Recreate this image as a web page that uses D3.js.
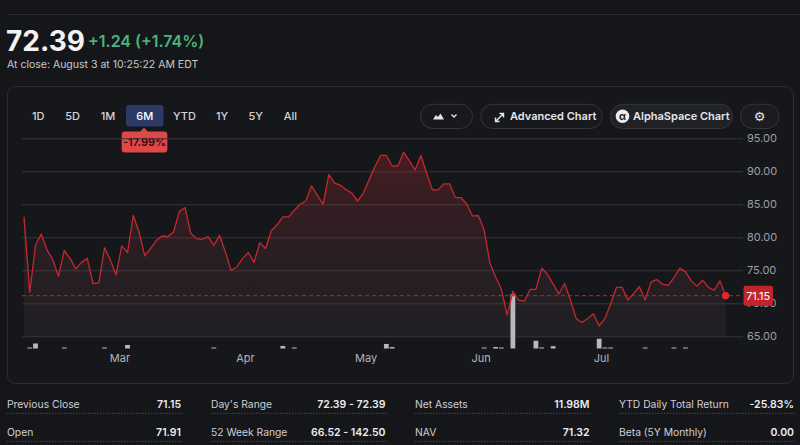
<!DOCTYPE html>
<html>
<head>
<meta charset="utf-8">
<script src="https://cdn.jsdelivr.net/npm/d3@7"></script>
<style>
    body { margin: 0; background: #15161a; }
    svg { display: block; font-family: Inter, "Noto Sans", sans-serif; }
</style>
</head>
<body>
<svg width="800" height="445"></svg>
<script>
// daily closes, 6M window
var closes = [
    83.1, 71.7, 78.8, 80.5, 78.1, 76.6, 74.1, 78.0, 76.8, 75.2,
    76.2, 76.8, 73.0, 73.1, 78.4, 76.6, 74.3, 78.7, 77.7, 83.3,
    80.8, 77.2, 78.3, 79.5, 80.2, 80.1, 80.8, 83.9, 84.5, 80.6,
    79.8, 79.7, 80.1, 78.8, 80.3, 77.8, 75.0, 75.5, 76.8, 77.7,
    76.2, 79.2, 78.3, 81.0, 81.9, 83.1, 83.1, 84.1, 85.0, 85.5,
    87.8, 86.4, 85.0, 89.5, 88.2, 87.9, 87.2, 86.7, 85.5, 86.7,
    88.7, 90.7, 92.4, 92.4, 90.8, 90.8, 92.9, 91.6, 90.2, 92.4,
    89.7, 87.2, 87.2, 88.1, 88.1, 86.0, 86.0, 85.0, 83.2, 83.3,
    81.1, 76.1, 74.0, 72.1, 68.2, 71.8, 70.5, 70.3, 72.1, 72.1,
    75.3, 74.4, 72.9, 71.4, 73.0, 70.5, 67.7, 67.1, 67.7, 68.4,
    66.6, 67.7, 69.9, 72.4, 72.4, 70.5, 71.5, 72.5, 70.5, 73.2,
    73.6, 72.9, 72.7, 73.9, 75.3, 74.8, 73.4, 72.6, 73.5, 72.4,
    72.0, 73.4, 71.15
];

// only the days that show a volume bar
var volumeDay = [1, 2, 7, 14, 18, 33, 45, 47, 63, 64, 80, 82, 83, 85, 89, 90, 92, 100, 101, 102, 108, 113, 115];
var volumeShares = [100, 500, 100, 100, 350, 100, 250, 100, 450, 150, 100, 150, 100, 5400, 770, 100, 230, 970, 100, 100, 100, 100, 100];

var monthLabels = ["Mar", "Apr", "May", "Jun", "Jul"];
var monthDay = [16.6, 38.4, 59.4, 79.4, 100.3];
var priceTicks = [65, 70, 75, 80, 85, 90, 95];
var previousClose = 71.15;

var ranges = ["1D", "5D", "1M", "6M", "YTD", "1Y", "5Y", "All"];
var statLabels = [["Previous Close", "Open"], ["Day's Range", "52 Week Range"], ["Net Assets", "NAV"], ["YTD Daily Total Return", "Beta (5Y Monthly)"]];
var statValues = [["71.15", "71.91"], ["72.39 - 72.39", "66.52 - 142.50"], ["11.98M", "71.32"], ["-25.83%", "0.00"]];

var svg = d3.select("svg");
var red = "#c4282d";

// header
svg.append("line")
    .attr("x1", 7).attr("x2", 800).attr("y1", 14.5).attr("y2", 14.5)
    .style("stroke", "#2b2d32");

svg.append("text")
    .attr("x", 6).attr("y", 51)
    .style("font-size", "28px").style("font-weight", 700).style("fill", "#f2f2f4")
    .text("72.39");

svg.append("text")
    .attr("x", 88).attr("y", 47)
    .style("font-size", "16px").style("font-weight", 600).style("fill", "#4cb27a")
    .text("+1.24  (+1.74%)");

svg.append("text")
    .attr("x", 7).attr("y", 67.5)
    .style("font-size", "10.5px").style("fill", "#c9c9ce")
    .text("At close: August 3 at 10:25:22 AM EDT");

// card
svg.append("rect")
    .attr("x", 7.5).attr("y", 86.5).attr("width", 786).attr("height", 297).attr("rx", 8)
    .style("fill", "#16171b").style("stroke", "#2c2e33");

// range buttons
var rangeX = [38.3, 72.5, 108, 144.7, 184.5, 222, 255.7, 290.3];
svg.append("rect")
    .attr("x", 126).attr("y", 105).attr("width", 37.5).attr("height", 21.5).attr("rx", 3)
    .style("fill", "#2d3a68");

svg.selectAll(".range")
    .data(ranges)
    .enter()
    .append("text")
    .attr("class", "range")
    .attr("x", (d, i) => rangeX[i])
    .attr("y", 120)
    .attr("text-anchor", "middle")
    .style("font-size", "11px").style("font-weight", 500)
    .style("fill", d => d == "6M" ? "#ffffff" : "#d4d4d8")
    .text(d => d);

// 6M change badge
svg.append("path")
    .attr("d", "M140,132 L144,127.5 L148,132 Z")
    .style("fill", "#e04848");
svg.append("rect")
    .attr("x", 121.7).attr("y", 131.5).attr("width", 45.6).attr("height", 21).attr("rx", 3)
    .style("fill", "#e04848");
svg.append("text")
    .attr("x", 144.5).attr("y", 146)
    .attr("text-anchor", "middle")
    .style("font-size", "11px").style("font-weight", 600).style("fill", "#33090b")
    .text("-17.99%");

// toolbar pills
var pills = [
    { x: 420.5, w: 52, fill: "#18191d" },
    { x: 480.7, w: 121.6, fill: "#18191d" },
    { x: 610.5, w: 122, fill: "#202227" },
    { x: 740.5, w: 38.5, fill: "#1b1c20" }
];
svg.selectAll(".pill")
    .data(pills)
    .enter()
    .append("rect")
    .attr("x", d => d.x).attr("y", 104.3).attr("width", d => d.w).attr("height", 24.2).attr("rx", 12)
    .style("fill", d => d.fill).style("stroke", "#34363c");

// mountain + chevron
svg.append("path")
    .attr("d", "M433,119.5 L436,115 L438,117 L440.5,113.5 L444,119.5 Z")
    .style("fill", "#e6e6ea");
svg.append("path")
    .attr("d", "M451.5,114.5 L454,117 L456.5,114.5")
    .style("fill", "none").style("stroke", "#e6e6ea").style("stroke-width", 1.3);

// expand arrow
svg.append("path")
    .attr("d", "M496,121 L503,114 M499.5,113.5 L503.5,113.5 L503.5,117.5 M495.5,117.5 L495.5,121.5 L499.5,121.5")
    .style("fill", "none").style("stroke", "#e6e6ea").style("stroke-width", 1.4);
svg.append("text")
    .attr("x", 510).attr("y", 120.3)
    .style("font-size", "11px").style("font-weight", 600).style("fill", "#e6e6ea")
    .text("Advanced Chart");

// alpha badge
svg.append("circle").attr("cx", 622.5).attr("cy", 116.3).attr("r", 6.8).style("fill", "#ececef");
svg.append("text")
    .attr("x", 622.5).attr("y", 119.8).attr("text-anchor", "middle")
    .style("font-size", "10px").style("font-weight", 700).style("fill", "#18191d")
    .text("α");
svg.append("text")
    .attr("x", 633).attr("y", 120.3)
    .style("font-size", "11px").style("font-weight", 600).style("fill", "#e6e6ea")
    .text("AlphaSpace Chart");

// gear
svg.append("text")
    .attr("x", 759.7).attr("y", 121).attr("text-anchor", "middle")
    .style("font-family", "DejaVu Sans").style("font-size", "13px").style("fill", "#e6e6ea")
    .text("⚙");

// scales
var xScale = d3.scaleLinear().domain([0, closes.length - 1]).range([24, 725.7]);
var yScale = d3.scaleLinear().domain([65, 95]).range([336.3, 138.3]);
var volBase = 348.5;
var volScale = d3.scaleLinear().domain([0, d3.max(volumeShares)]).range([volBase, 294.3]);

// grid + price labels
var yAxis = d3.axisRight(yScale)
    .tickValues(priceTicks)
    .tickSize(721)
    .tickPadding(4)
    .tickFormat(d3.format(".2f"));

var yAxisG = svg.append("g")
    .attr("transform", "translate(22,0)")
    .call(yAxis);
yAxisG.select(".domain").remove();
yAxisG.selectAll("line").style("stroke", "#36383d");
yAxisG.selectAll("text")
    .style("fill", "#9d9ea4").style("font-size", "11px").style("font-family", "Inter, sans-serif");

// month labels
var xAxis = d3.axisBottom(xScale)
    .tickValues(monthDay)
    .tickSize(0)
    .tickPadding(3)
    .tickFormat((d, i) => monthLabels[i]);

var xAxisG = svg.append("g")
    .attr("transform", "translate(0,351.5)")
    .call(xAxis);
xAxisG.select(".domain").remove();
xAxisG.selectAll("text")
    .style("fill", "#b4b5ba").style("font-size", "11px").style("font-family", "Inter, sans-serif");

// area fill
var grad = svg.append("defs").append("linearGradient")
    .attr("id", "fillGrad")
    .attr("gradientUnits", "userSpaceOnUse")
    .attr("x1", 0).attr("x2", 0)
    .attr("y1", yScale(93)).attr("y2", yScale(65));
grad.append("stop").attr("offset", 0).style("stop-color", "#c42a30").style("stop-opacity", 0.28);
grad.append("stop").attr("offset", 0.6).style("stop-color", "#6a3a40").style("stop-opacity", 0.2);
grad.append("stop").attr("offset", 1).style("stop-color", "#3a3b42").style("stop-opacity", 0.25);

var area = d3.area()
    .x((d, i) => xScale(i))
    .y0(yScale(65))
    .y1(d => yScale(d));

svg.append("path")
    .datum(closes)
    .attr("d", area)
    .style("fill", "url(#fillGrad)");

// volume
svg.selectAll(".vol")
    .data(volumeDay)
    .enter()
    .append("rect")
    .attr("class", "vol")
    .attr("x", d => xScale(d) - 2.4)
    .attr("width", 4.8)
    .attr("y", (d, i) => Math.min(volScale(volumeShares[i]), volBase - 1))
    .attr("height", (d, i) => Math.max(volBase - volScale(volumeShares[i]), 1))
    .style("fill", "#b9b9bd");

// previous close
svg.append("line")
    .attr("x1", 22).attr("x2", 743)
    .attr("y1", yScale(previousClose)).attr("y2", yScale(previousClose))
    .style("stroke", "#b8292e").style("stroke-width", 1).style("stroke-dasharray", "4,3");

// price line
var line = d3.line()
    .x((d, i) => xScale(i))
    .y(d => yScale(d));

svg.append("path")
    .datum(closes)
    .attr("d", line)
    .style("fill", "none").style("stroke", red).style("stroke-width", 1.3)
    .style("stroke-linejoin", "round");

var last = closes.length - 1;
svg.append("circle")
    .attr("cx", xScale(last)).attr("cy", yScale(closes[last])).attr("r", 3.6)
    .style("fill", "#e3262c");

// last price tag
svg.append("rect")
    .attr("x", 743.5).attr("y", yScale(closes[last]) - 10).attr("width", 29.5).attr("height", 20).attr("rx", 2)
    .style("fill", "#c3242a");
svg.append("text")
    .attr("x", 758.2).attr("y", yScale(closes[last]) + 3.8).attr("text-anchor", "middle")
    .style("font-size", "11px").style("fill", "#ffffff")
    .text(d3.format(".2f")(closes[last]));

// key stats
var colLeft = [7, 211, 415, 619];
var colRight = [181, 385.5, 589.5, 794];
var rowY = [407.8, 435.8];

statLabels.forEach(function (col, c) {
    col.forEach(function (label, r) {
        svg.append("text")
            .attr("x", colLeft[c]).attr("y", rowY[r])
            .style("font-size", "10.3px").style("fill", "#cfcfd4")
            .text(label);
        svg.append("text")
            .attr("x", colRight[c]).attr("y", rowY[r]).attr("text-anchor", "end")
            .style("font-size", "10.5px").style("font-weight", 600).style("fill", "#ececef")
            .text(statValues[c][r]);
        svg.append("line")
            .attr("x1", colLeft[c]).attr("x2", colRight[c] + 1)
            .attr("y1", rowY[r] + 5.5).attr("y2", rowY[r] + 5.5)
            .style("stroke", "#4a4c52").style("stroke-dasharray", "1.5,1.5");
    });
});
</script>
</body>
</html>
